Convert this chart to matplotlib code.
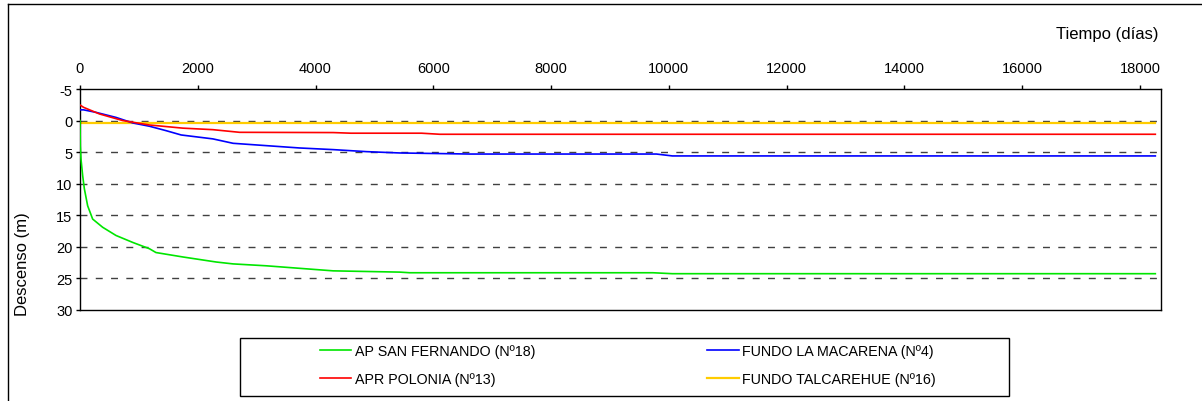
import matplotlib
matplotlib.use('Agg')
import matplotlib.pyplot as plt
from matplotlib.lines import Line2D
from matplotlib.patches import Rectangle

# Series (days, drawdown in m)
days_sf = [0, 5, 17, 45, 74, 130, 215, 385, 612, 896, 1180, 1290, 1746, 2313,
           2600, 3164, 3730, 4300, 4865, 5430, 5600, 9730, 10060, 18262]
desc_sf = [0, 4.0, 6.1, 8.7, 10.8, 13.5, 15.6, 16.9, 18.2, 19.3, 20.3, 20.9, 21.6, 22.4,
           22.7, 23.0, 23.4, 23.8, 23.9, 24.0, 24.1, 24.1, 24.25, 24.25]

days_mac = [0, 60, 272, 612, 896, 1180, 1463, 1718, 2256, 2600, 3164, 3730, 4300,
            4865, 5430, 6620, 9790, 10060, 18262]
desc_mac = [-1.7, -1.7, -1.3, -0.5, 0.38, 0.9, 1.6, 2.28, 2.9, 3.6, 3.97, 4.34, 4.6,
            4.92, 5.13, 5.3, 5.3, 5.6, 5.6]

days_pol = [0, 60, 330, 725, 1180, 1746, 2256, 2710, 4300, 4600, 5800, 6110, 18262]
desc_pol = [-2.47, -2.1, -1.05, 0, 0.7, 1.2, 1.44, 1.86, 1.9, 2.0, 2.0, 2.17, 2.17]

days_tal = [0, 18262]
desc_tal = [0.4, 0.4]

xticks = list(range(0, 18001, 2000))
yticks = list(range(-5, 31, 5))
grid_y = [0, 5, 10, 15, 20, 25]

plt.rcParams['font.family'] = ['Liberation Sans', 'DejaVu Sans']
plt.rcParams['lines.scale_dashes'] = False
plt.rcParams['axes.unicode_minus'] = False

W, H = 1202, 402
fig = plt.figure(figsize=(W / 100, H / 100), dpi=100)
ax = fig.add_axes([80 / W, 1 - 311 / H, (1160.5 - 80) / W, (311 - 90) / H])

for g in grid_y:
    ax.axhline(g, color='#404040', lw=1.0, linestyle=(0, (5, 6)), zorder=1)

ax.plot(days_sf, desc_sf, color='#00e600', lw=1.2, label='AP SAN FERNANDO (Nº18)', zorder=3)
ax.plot(days_mac, desc_mac, color='#0000ff', lw=1.2, label='FUNDO LA MACARENA (Nº4)', zorder=3)
ax.plot(days_pol, desc_pol, color='#ff0000', lw=1.2, label='APR POLONIA (Nº13)', zorder=3)
ax.plot(days_tal, desc_tal, color='#ffcc00', lw=1.6, label='FUNDO TALCAREHUE (Nº16)', zorder=2)

ax.set_xlim(0, 18350)
ax.set_ylim(30, -5)
ax.set_xticks(xticks)
ax.set_yticks(yticks)
ax.xaxis.tick_top()
ax.tick_params(axis='x', direction='out', length=3, width=1, pad=7, labelsize=10.5)
ax.tick_params(axis='y', direction='out', length=3, width=1, pad=2.5, labelsize=10.5)
for s in ax.spines.values():
    s.set_linewidth(1.0)
    s.set_color('black')

fig.text(1159 / W, 1 - 39 / H, 'Tiempo (días)', ha='right', va='baseline', fontsize=12)
fig.text(23 / W, 1 - 264 / H, 'Descenso (m)', ha='center', va='center',
         rotation=90, fontsize=12)

# outer frame (left and top visible in reference)
fig.add_artist(Line2D([7.5 / W, 7.5 / W], [0, 1 - 5 / H], color='black', lw=1))
fig.add_artist(Line2D([7.5 / W, 1], [1 - 5 / H, 1 - 5 / H], color='black', lw=1))

# legend box
fig.add_artist(Rectangle((240 / W, 1 - 397 / H), (1009 - 240) / W, (397 - 339) / H,
                         transform=fig.transFigure, fill=False, edgecolor='black', lw=1))

handles, labels = ax.get_legend_handles_labels()
order = [0, 2, 1, 3]
leg = fig.legend([handles[i] for i in order], [labels[i] for i in order],
                 ncol=2, loc='upper left', bbox_to_anchor=(320 / W, 1 - 345 / H),
                 frameon=False, prop={'size': 10.3},
                 handlelength=2.2, handletextpad=0.25, columnspacing=12.0,
                 labelspacing=0.95, borderpad=0, borderaxespad=0)

fig.savefig('out.png', dpi=100)
